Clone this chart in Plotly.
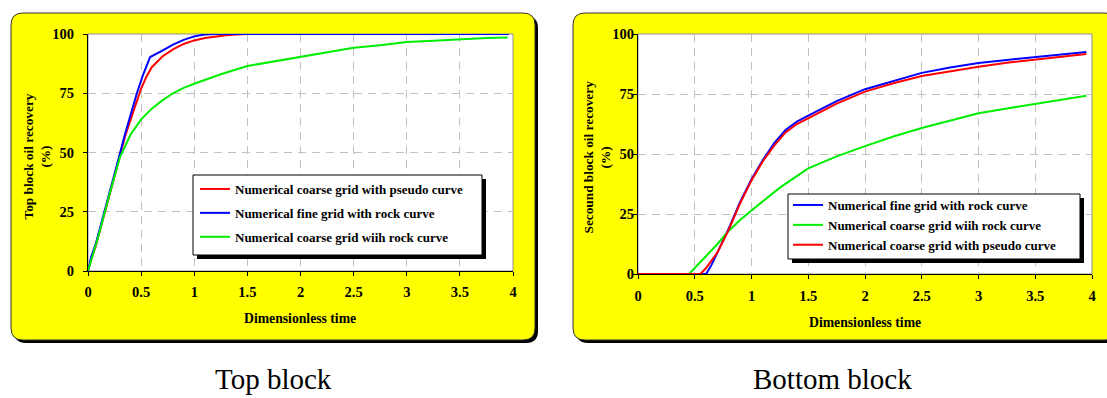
import plotly.graph_objects as go

W, H = 1107, 398

# ---------------- data ----------------
# Top block
top_red_x = [0, 0.03, 0.07, 0.15, 0.25, 0.35, 0.45, 0.5, 0.55, 0.6, 0.7, 0.8, 0.9, 1.0, 1.1, 1.2, 1.3, 1.4, 1.5, 2.0, 3.0, 3.96]
top_red_y = [0, 5, 10, 23, 40, 57, 71, 77, 82, 86, 90.5, 93.5, 95.8, 97.3, 98.3, 99, 99.5, 99.8, 100, 100, 100, 100]
top_blue_x = [0, 0.03, 0.07, 0.15, 0.25, 0.35, 0.46, 0.52, 0.585, 0.7, 0.8, 0.9, 1.0, 1.1, 1.2, 2.0, 3.0, 3.96]
top_blue_y = [0, 6, 11, 24, 41, 58, 75, 83, 90.3, 93, 95.5, 97.5, 99, 99.8, 100, 100, 100, 100]
top_green_x = [0, 0.05, 0.1, 0.2, 0.3, 0.4, 0.5, 0.6, 0.7, 0.8, 0.9, 1.0, 1.25, 1.5, 1.75, 2.0, 2.25, 2.5, 2.75, 3.0, 3.25, 3.5, 3.75, 3.95]
top_green_y = [0, 7, 15, 32, 48, 57.5, 64, 68.5, 72, 75, 77.3, 79, 83, 86.5, 88.5, 90.5, 92.5, 94.2, 95.3, 96.6, 97.2, 97.8, 98.3, 98.5]

# Bottom block
bot_blue_x = [0, 0.6, 0.65, 0.7, 0.8, 0.9, 1.0, 1.1, 1.2, 1.3, 1.4, 1.5, 1.75, 2.0, 2.25, 2.5, 2.75, 3.0, 3.25, 3.5, 3.75, 3.95]
bot_blue_y = [0, 0, 4, 9, 19, 30, 39.5, 47.5, 54.5, 60, 63.5, 66, 72, 77, 80.5, 83.8, 86, 87.9, 89.2, 90.4, 91.5, 92.5]
bot_green_x = [0, 0.45, 0.6, 0.7, 0.8, 0.9, 1.0, 1.25, 1.5, 1.75, 2.0, 2.25, 2.5, 2.75, 3.0, 3.25, 3.5, 3.75, 3.95]
bot_green_y = [0, 0, 7.5, 12.5, 18, 22.5, 26.5, 36, 44, 49, 53.3, 57.3, 60.8, 64, 67, 69, 71, 72.8, 74.3]
bot_red_x = [0, 0.55, 0.6, 0.7, 0.8, 0.9, 1.0, 1.1, 1.2, 1.3, 1.4, 1.5, 1.75, 2.0, 2.25, 2.5, 2.75, 3.0, 3.25, 3.5, 3.75, 3.95]
bot_red_y = [0, 0, 2.5, 9, 18.5, 29.5, 39, 47, 53.5, 59, 62.5, 65, 71, 76, 79.5, 82.5, 84.6, 86.4, 88, 89.4, 90.7, 91.7]

name_pseudo = "Numerical coarse grid with pseudo curve"
name_fine = "Numerical fine grid with rock curve"
name_coarse = "Numerical coarse grid wiih rock curve"

x_title = "Dimensionless time"
y_title_top = "Top block oil recovery<br>(%)"
y_title_bot = "Secound block oil recovery<br>(%)"
caption_top = "Top block"
caption_bot = "Bottom block"

RED, BLUE, GREEN = "#ff0000", "#0000ff", "#00ee00"

# ---------------- helpers (page pixel -> paper) ----------------
def px(x):
    return x / W

def py(y):
    return 1 - y / H

def rrect(x0, y0, x1, y1, r):
    pts = [
        f"M {px(x0 + r)} {py(y0)}",
        f"L {px(x1 - r)} {py(y0)}",
        f"Q {px(x1)} {py(y0)} {px(x1)} {py(y0 + r)}",
        f"L {px(x1)} {py(y1 - r)}",
        f"Q {px(x1)} {py(y1)} {px(x1 - r)} {py(y1)}",
        f"L {px(x0 + r)} {py(y1)}",
        f"Q {px(x0)} {py(y1)} {px(x0)} {py(y1 - r)}",
        f"L {px(x0)} {py(y0 + r)}",
        f"Q {px(x0)} {py(y0)} {px(x0 + r)} {py(y0)}",
        "Z",
    ]
    return " ".join(pts)

FONT = "Liberation Serif"
fig = go.Figure()

def line(x, y, name, color, xa, ya, leg, grp):
    fig.add_trace(go.Scatter(x=x, y=y, name=name, mode="lines",
                             line=dict(color=color, width=2),
                             xaxis=xa, yaxis=ya, legend=leg, legendgroup=grp))

line(top_red_x, top_red_y, name_pseudo, RED, "x", "y", "legend", "a1")
line(top_blue_x, top_blue_y, name_fine, BLUE, "x", "y", "legend", "a2")
line(top_green_x, top_green_y, name_coarse, GREEN, "x", "y", "legend", "a3")
line(bot_blue_x, bot_blue_y, name_fine, BLUE, "x2", "y2", "legend2", "b1")
line(bot_green_x, bot_green_y, name_coarse, GREEN, "x2", "y2", "legend2", "b2")
line(bot_red_x, bot_red_y, name_pseudo, RED, "x2", "y2", "legend2", "b3")

tickfont = dict(family=FONT, size=14.5, color="black", weight="bold")

def xaxis(dom, anchor, standoff):
    return dict(domain=dom, anchor=anchor, range=[0, 4], dtick=0.5, tick0=0,
                showgrid=True, gridcolor="#c0c0c0", griddash="8px,6px", gridwidth=1,
                showline=True, linecolor="black", linewidth=1, zeroline=False,
                ticks="outside", ticklen=4, tickcolor="black", automargin=False,
                tickfont=tickfont, ticklabelstandoff=standoff)

def yaxis(dom, anchor, standoff):
    return dict(domain=dom, anchor=anchor, range=[0, 100], dtick=25, tick0=0,
                showgrid=True, gridcolor="#c0c0c0", griddash="8px,6px", gridwidth=1,
                showline=True, linecolor="black", linewidth=1, zeroline=False,
                ticks="outside", ticklen=4, tickcolor="black", automargin=False,
                tickfont=tickfont, ticklabelstandoff=standoff)

L_dom_x = [px(88), px(513)]
L_dom_y = [py(271), py(34)]
R_dom_x = [px(638), px(1092)]
R_dom_y = [py(274), py(34)]

shapes = []
# panel shadows & panels
shapes.append(dict(type="path", xref="paper", yref="paper", layer="below",
                   path=rrect(14, 16, 538, 343, 12), fillcolor="black", line=dict(width=0)))
shapes.append(dict(type="path", xref="paper", yref="paper", layer="below",
                   path=rrect(11, 13, 535, 340, 12), fillcolor="#ffff00", line=dict(color="#333333", width=1)))
shapes.append(dict(type="path", xref="paper", yref="paper", layer="below",
                   path=rrect(576, 16, 1120, 343, 12), fillcolor="black", line=dict(width=0)))
shapes.append(dict(type="path", xref="paper", yref="paper", layer="below",
                   path=rrect(573, 13, 1117, 340, 12), fillcolor="#ffff00", line=dict(color="#333333", width=1)))
# plot areas
for xr, yr in (("x domain", "y domain"), ("x2 domain", "y2 domain")):
    shapes.append(dict(type="rect", xref=xr, yref=yr, x0=0, x1=1, y0=0, y1=1, layer="below",
                       fillcolor="white", line=dict(color="#909090", width=1)))

# legend boxes with shadows
for (x0, y0, x1, y1) in ((193, 175, 482, 255), (788, 194, 1080, 259)):
    shapes.append(dict(type="rect", xref="paper", yref="paper", layer="above",
                       x0=px(x0 + 4), x1=px(x1 + 4), y0=py(y1 + 4), y1=py(y0 + 4),
                       fillcolor="black", line=dict(width=0)))
    shapes.append(dict(type="rect", xref="paper", yref="paper", layer="above",
                       x0=px(x0), x1=px(x1), y0=py(y1), y1=py(y0),
                       fillcolor="white", line=dict(color="black", width=1)))

titlefont = dict(family=FONT, size=13.7, color="black", weight="bold")
ytitlefont = dict(family=FONT, size=13.3, color="black", weight="bold")
capfont = dict(family=FONT, size=29, color="black")
annotations = [
    dict(text=x_title, x=px(300), y=py(318), xref="paper", yref="paper", showarrow=False,
         font=titlefont, xanchor="center", yanchor="middle"),
    dict(text=x_title, x=px(865), y=py(322), xref="paper", yref="paper", showarrow=False,
         font=titlefont, xanchor="center", yanchor="middle"),
    dict(text=y_title_top, x=px(36.5), y=py(156), xref="paper", yref="paper", showarrow=False,
         font=ytitlefont, textangle=-90, xanchor="center", yanchor="middle"),
    dict(text=y_title_bot, x=px(596.5), y=py(157), xref="paper", yref="paper", showarrow=False,
         font=ytitlefont, textangle=-90, xanchor="center", yanchor="middle"),
    dict(text=caption_top, x=px(273), y=py(396), xref="paper", yref="paper", showarrow=False,
         font=capfont, xanchor="center", yanchor="bottom", borderpad=0),
    dict(text=caption_bot, x=px(832), y=py(396), xref="paper", yref="paper", showarrow=False,
         font=capfont, xanchor="center", yanchor="bottom", borderpad=0),
]

legfont = dict(family=FONT, size=13, color="black", weight="bold")
fig.update_layout(
    width=W, height=H,
    margin=dict(l=0, r=0, t=0, b=0, pad=0, autoexpand=False),
    paper_bgcolor="white", plot_bgcolor="white",
    xaxis=xaxis(L_dom_x, "y", 4), yaxis=yaxis(L_dom_y, "x", 6),
    xaxis2=xaxis(R_dom_x, "y2", 5), yaxis2=yaxis(R_dom_y, "x2", -4),
    showlegend=True,
    legend=dict(x=px(195), y=py(174), xanchor="left", yanchor="top",
                bgcolor="rgba(0,0,0,0)", borderwidth=0,
                font=legfont, tracegroupgap=4, itemwidth=30),
    legend2=dict(x=px(788), y=py(190), xanchor="left", yanchor="top",
                 bgcolor="rgba(0,0,0,0)", borderwidth=0,
                 font=legfont, tracegroupgap=0, itemwidth=30),
    shapes=shapes,
    annotations=annotations,
)

fig.write_html("out.html")
